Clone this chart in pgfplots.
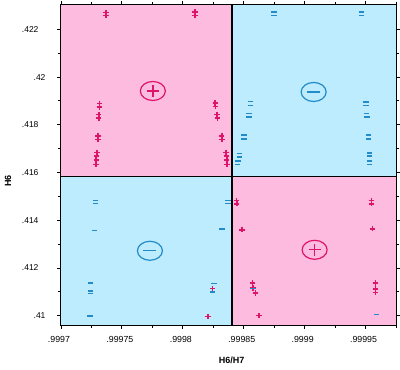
\documentclass[border=0pt]{standalone}
\usepackage{fontspec}
\setmainfont{Liberation Sans}
\usepackage{pgfplots}
\pgfplotsset{compat=1.18}
\usetikzlibrary{shapes.geometric}
\definecolor{pinkbg}{RGB}{253,188,223}
\definecolor{bluebg}{RGB}{188,236,253}
\definecolor{redm}{RGB}{222,20,105}
\definecolor{bluem}{RGB}{35,140,200}
\begin{document}
\begin{tikzpicture}
\useasboundingbox (0,0) rectangle (400pt,370pt);
\begin{axis}[
  at={(61pt,45pt)}, anchor=south west,
  scale only axis, width=335pt, height=320pt,
  xmin=0.9997, xmax=0.999975, ymin=0.40961, ymax=0.42302,
  axis line style={line width=1.6pt},
  xtick={0.9997,0.99975,0.9998,0.99985,0.9999,0.99995},
  xticklabels={.9997,.99975,.9998,.99985,.9999,.99995},
  minor xtick={0.999725,0.999775,0.999825,0.999875,0.999925,0.999975},
  ytick={0.41,0.412,0.414,0.416,0.418,0.42,0.422},
  yticklabels={.41\hspace*{-7pt},.412,.414,.416,.418,.42\hspace*{-7pt},.422},
  minor ytick={0.411,0.413,0.415,0.417,0.419,0.421},
  tick pos=both, tick align=outside,
  major tick length=4pt, minor tick length=3pt,
  every tick/.style={black, line width=0.9pt},
  xticklabel style={font=\fontsize{8.8}{10}\selectfont, xshift=-2pt, yshift=-3.5pt},
  yticklabel style={font=\fontsize{8.5}{10}\selectfont, anchor=east, xshift=-15pt},
  xlabel={H6/H7}, ylabel={H6},
  xlabel style={at={(axis description cs:0.509,-0.111)}, anchor=center, font=\fontsize{9}{10}\selectfont\bfseries},
  ylabel style={at={(axis description cs:-0.158,0.45)}, anchor=center, font=\fontsize{9}{10}\selectfont\bfseries},
  clip=true,
]
% quadrant backgrounds
\addplot[fill=pinkbg, draw=none, forget plot] coordinates {(0.9997,0.41584) (0.9998404,0.41584) (0.9998404,0.42302) (0.9997,0.42302)};
\addplot[fill=bluebg, draw=none, forget plot] coordinates {(0.9998404,0.41584) (0.999975,0.41584) (0.999975,0.42302) (0.9998404,0.42302)};
\addplot[fill=bluebg, draw=none, forget plot] coordinates {(0.9997,0.40961) (0.9998404,0.40961) (0.9998404,0.41584) (0.9997,0.41584)};
\addplot[fill=pinkbg, draw=none, forget plot] coordinates {(0.9998404,0.40961) (0.999975,0.40961) (0.999975,0.41584) (0.9998404,0.41584)};
% dividers
\addplot[black, line width=1.4pt, forget plot] coordinates {(0.9998404,0.40961) (0.9998404,0.42302)};
\addplot[black, line width=1.4pt, forget plot] coordinates {(0.9997,0.41584) (0.999975,0.41584)};
% red plus points
\addplot[only marks, mark=+, mark size=2.6pt, mark options={line width=1.45pt, color=redm}] coordinates {
(0.999737,0.422703) (0.999737,0.422569) (0.99981,0.422724) (0.99981,0.422569)
(0.9997317,0.418894) (0.9997317,0.418747) (0.9997311,0.418434) (0.9997311,0.418287)
(0.9997303,0.417533) (0.9997303,0.417387) (0.9997295,0.416843) (0.9997293,0.416696)
(0.9997289,0.416529) (0.9997287,0.416341)
(0.9998265,0.418914) (0.9998268,0.418768) (0.9998281,0.418434) (0.9998284,0.418287)
(0.999832,0.417533) (0.9998322,0.417387) (0.9998355,0.416843) (0.9998358,0.416696)
(0.9998361,0.416529) (0.9998363,0.416341)
(0.999844,0.414825) (0.9998443,0.414687) (0.9998486,0.413599) (0.9998571,0.411368)
(0.9998576,0.411158) (0.9998596,0.410949) (0.9998625,0.41)
(0.9999547,0.414825) (0.999955,0.414687) (0.9999555,0.413641) (0.999958,0.411368)
(0.999958,0.411116) (0.999958,0.410974)
(0.9998243,0.411129) (0.9998207,0.40997)
};
% blue minus points
\addplot[only marks, mark=-, mark size=2.7pt, mark options={line width=1.3pt, color=bluem}] coordinates {
(0.9998748,0.422724) (0.9998748,0.422578) (0.9999465,0.422724) (0.9999465,0.422578)
(0.9998557,0.418969) (0.9998557,0.41881) (0.9998543,0.418475) (0.9998543,0.418329)
(0.9998503,0.417575) (0.9998503,0.417408) (0.9998467,0.416809) (0.9998465,0.416654)
(0.9998453,0.416487) (0.9998448,0.416341)
(0.9999503,0.418957) (0.9999503,0.41881) (0.9999506,0.418475) (0.9999511,0.418329)
(0.9999522,0.417575) (0.9999522,0.417408) (0.9999533,0.416822) (0.9999533,0.416696)
(0.9999533,0.416487) (0.9999533,0.416341)
(0.9997284,0.414813) (0.9997284,0.414687) (0.9997273,0.413569) (0.9997243,0.411368)
(0.9997243,0.411033) (0.9997243,0.41092) (0.9997238,0.409986)
(0.9998371,0.414813) (0.9998371,0.414708) (0.9998322,0.413628) (0.9998257,0.411338)
(0.9998243,0.410991)
(0.9998576,0.41115) (0.9999588,0.410041)
};
% circled signs
\addplot[only marks, mark=+, mark size=6pt, mark options={line width=1.3pt, color=redm},
  nodes near coords={\phantom{x}},
  every node near coord/.style={anchor=center, ellipse, draw=redm, line width=1.2pt, minimum width=25pt, minimum height=19pt, inner sep=0pt}]
  coordinates {(0.9997754,0.419417) (0.9999082,0.412761)};
\addplot[only marks, mark=-, mark size=6.5pt, mark options={line width=1.3pt, color=bluem},
  nodes near coords={\phantom{x}},
  every node near coord/.style={anchor=center, ellipse, draw=bluem, line width=1.2pt, minimum width=25pt, minimum height=19pt, inner sep=0pt}]
  coordinates {(0.9999074,0.419375) (0.999773,0.41272)};
\end{axis}
\end{tikzpicture}
\end{document}
